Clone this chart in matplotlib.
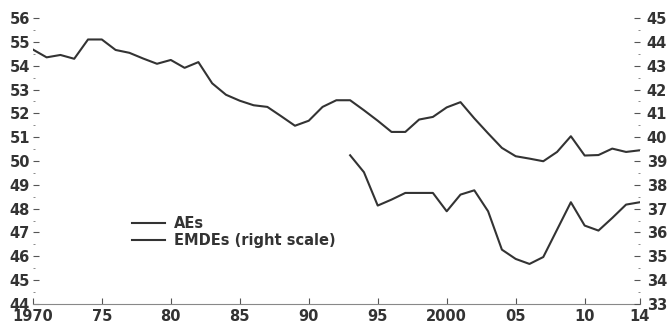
import matplotlib.pyplot as plt
from matplotlib.ticker import MultipleLocator

plt.rcParams['font.family'] = ['DejaVu Sans']
plt.rcParams['font.weight'] = 'bold'

years_ae = list(range(1970, 2015))
aes = [54.68, 54.35, 54.45, 54.29, 55.1, 55.1, 54.66, 54.54, 54.3, 54.08,
       54.24, 53.91, 54.15, 53.26, 52.78, 52.53, 52.34, 52.27, 51.88, 51.48,
       51.69, 52.27, 52.55, 52.55, 52.13, 51.69, 51.22, 51.22, 51.74, 51.85,
       52.25, 52.47, 51.79, 51.16, 50.55, 50.2, 50.1, 49.99, 50.38, 51.04,
       50.23, 50.25, 50.52, 50.38, 50.45]

years_em = list(range(1993, 2015))
emdes = [39.24, 38.53, 37.13, 37.38, 37.66, 37.66, 37.66, 36.89, 37.59, 37.77,
         36.89, 35.28, 34.89, 34.68, 34.97, 36.12, 37.27, 36.29, 36.08, 36.61,
         37.17, 37.27]

xticks = [1970, 1975, 1980, 1985, 1990, 1995, 2000, 2005, 2010, 2014]
xlabels = ['1970', '75', '80', '85', '90', '95', '2000', '05', '10', '14']

line_col = '#333333'
txt_col = '#333333'
fig = plt.figure(figsize=(6.7, 3.22), dpi=100)
ax = fig.add_axes([0.049, 0.056, 0.906, 0.888])
ax2 = ax.twinx()

l1, = ax.plot(years_ae, aes, color=line_col, lw=1.5, label='AEs')
l2, = ax2.plot(years_em, emdes, color=line_col, lw=1.5, label='EMDEs (right scale)')

ax.set_xlim(1970, 2014)
ax.set_ylim(44, 56)
ax2.set_ylim(33, 45)
ax.set_xticks(xticks)
ax.set_xticklabels(xlabels)
ax.set_yticks(range(44, 57))
ax2.set_yticks(range(33, 46))
ax.yaxis.set_minor_locator(MultipleLocator(0.5))
ax2.yaxis.set_minor_locator(MultipleLocator(0.5))

for a in (ax, ax2):
    for s in ('top', 'left', 'right'):
        a.spines[s].set_visible(False)
    a.spines['bottom'].set_color('#888888')
    a.tick_params(axis='both', which='major', direction='in', length=4,
                  color='#555555', labelsize=10.5, labelcolor=txt_col)
    a.tick_params(axis='y', which='minor', direction='in', length=1.5, color='#777777')
ax.tick_params(axis='y', pad=2)
ax2.tick_params(axis='y', pad=5)
ax.tick_params(axis='x', pad=3.5)
ax2.spines['bottom'].set_visible(False)

ax.legend(handles=[l1, l2], loc='upper left', bbox_to_anchor=(0.141, 0.352),
          frameon=False, fontsize=10.5, handlelength=2.3, handletextpad=0.6,
          labelspacing=0.1, labelcolor=txt_col)

fig.savefig('out.png', dpi=100)
